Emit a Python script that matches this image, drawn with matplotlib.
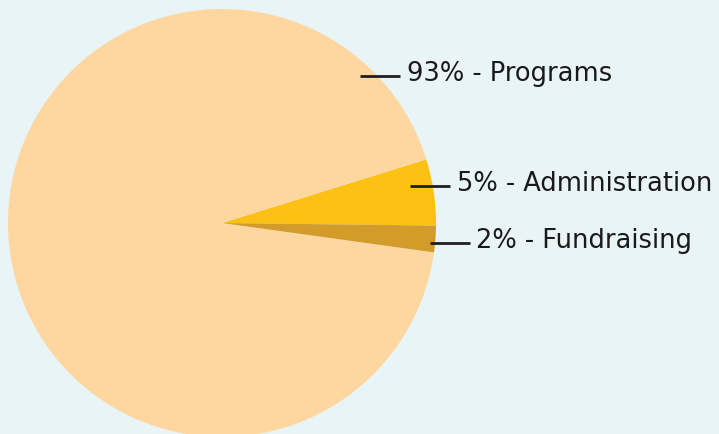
import numpy as np
import matplotlib.pyplot as plt

# Данные
categories = ['Administration', 'Programs', 'Fundraising']
shares = [5, 93, 2]
colors = ['#fcc114', '#fed7a0', '#d39c2a']

W, H = 719, 435
fig = plt.figure(figsize=(W / 100, H / 100), dpi=100)
fig.patch.set_facecolor('#e9f4f7')
ax = fig.add_axes([0, 0, 1, 1])
ax.set_facecolor('#e9f4f7')

cx, cy, r = 222, H - 224, 214
ax.pie(shares, colors=colors, startangle=-0.7, counterclock=True,
       center=(cx, cy), radius=r, frame=True,
       wedgeprops=dict(linewidth=0))

ax.set_xlim(0, W)
ax.set_ylim(0, H)
ax.set_aspect('equal')
ax.axis('off')

# Подписи с выносками (позиции в пикселях)
labels = {
    'Programs': ((360, 400), 77, 407),
    'Administration': ((410, 450), 187, 457),
    'Fundraising': ((430, 470), 244, 476),
}
for name, share in zip(categories, shares):
    (x0, x1), y, tx = labels[name]
    ax.plot([x0, x1], [H - y, H - y], color='#1e1e1e', lw=2,
            solid_capstyle='butt')
    ax.text(tx, H - y + 3, f'{share}% - {name}', fontsize=18.5,
            family='DejaVu Sans', color='#1a1a1a', va='center', ha='left')

fig.savefig('out.png', dpi=100, facecolor=fig.get_facecolor())
